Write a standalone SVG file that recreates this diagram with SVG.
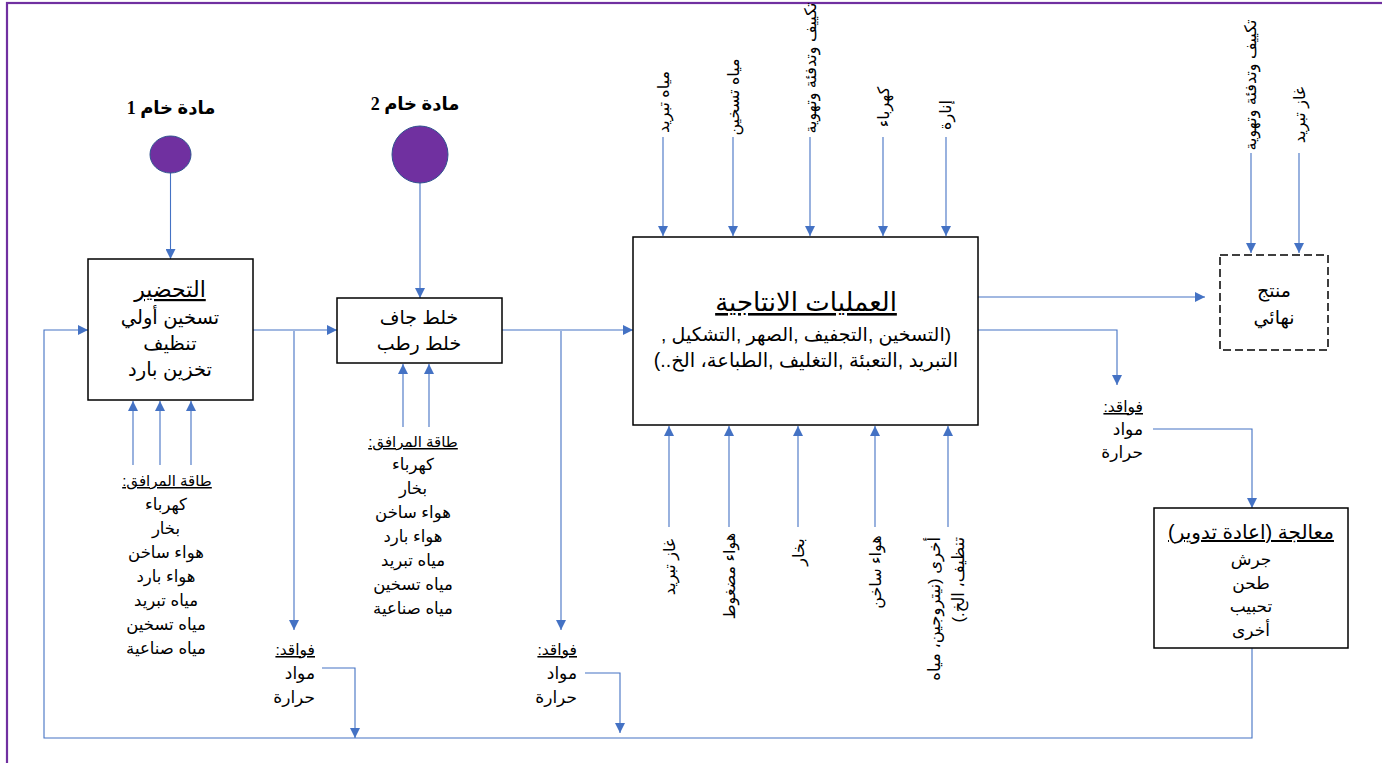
<svg xmlns="http://www.w3.org/2000/svg" width="1382" height="763" viewBox="0 0 1382 763">
<style>
.t{font-family:"Liberation Sans","DejaVu Sans",sans-serif;fill:#000;direction:rtl;text-anchor:middle}
.b{font-family:"Liberation Serif","DejaVu Sans",serif;font-weight:bold;fill:#000;direction:rtl;text-anchor:middle}
.box{fill:#fff;stroke:#000;stroke-width:1.5}
.dbox{fill:#fff;stroke:#000;stroke-width:1.5;stroke-dasharray:8 4}
.c{fill:none;stroke:#4472C4;stroke-width:1.1}
.u{text-decoration:underline}
.rs{text-anchor:start}
</style>
<defs>
<marker id="ah" markerUnits="userSpaceOnUse" viewBox="0 0 10 10" refX="10" refY="5" markerWidth="11" markerHeight="10" orient="auto">
<path d="M0,0 L10,5 L0,10 z" fill="#4472C4"/>
</marker>
</defs>
<rect x="7" y="3" width="1385" height="770" fill="#fff" stroke="#7030A0" stroke-width="2.2"/>

<g id="connectors">
<path class="c" marker-end="url(#ah)" d="M170.5,173 V259"/>
<path class="c" marker-end="url(#ah)" d="M420,183 V298"/>
<path class="c" marker-end="url(#ah)" d="M253,330 H337"/>
<path class="c" marker-end="url(#ah)" d="M502,330 H633"/>
<path class="c" marker-end="url(#ah)" d="M294,331 V630"/>
<path class="c" marker-end="url(#ah)" d="M322,668 H355 V738"/>
<path class="c" marker-end="url(#ah)" d="M561,331 V630"/>
<path class="c" marker-end="url(#ah)" d="M585,673 H620 V733"/>
<path class="c" marker-end="url(#ah)" d="M1252,648 V738 H44 V330 H88"/>
<path class="c" marker-end="url(#ah)" d="M978,297 H1205"/>
<path class="c" marker-end="url(#ah)" d="M978,330 H1117 V385"/>
<path class="c" marker-end="url(#ah)" d="M1153,429 H1252 V508"/>
<path class="c" marker-end="url(#ah)" d="M1251,153 V253"/>
<path class="c" marker-end="url(#ah)" d="M1299,153 V253"/>
<path class="c" marker-end="url(#ah)" d="M663,137 V236"/>
<path class="c" marker-end="url(#ah)" d="M733,137 V236"/>
<path class="c" marker-end="url(#ah)" d="M810,137 V236"/>
<path class="c" marker-end="url(#ah)" d="M883,137 V236"/>
<path class="c" marker-end="url(#ah)" d="M946,137 V236"/>
<path class="c" marker-end="url(#ah)" d="M669,527 V426"/>
<path class="c" marker-end="url(#ah)" d="M729,527 V426"/>
<path class="c" marker-end="url(#ah)" d="M798,527 V426"/>
<path class="c" marker-end="url(#ah)" d="M875,527 V426"/>
<path class="c" marker-end="url(#ah)" d="M948,527 V426"/>
<path class="c" marker-end="url(#ah)" d="M133,465 V401"/>
<path class="c" marker-end="url(#ah)" d="M160,465 V401"/>
<path class="c" marker-end="url(#ah)" d="M191,465 V401"/>
<path class="c" marker-end="url(#ah)" d="M403,427 V364"/>
<path class="c" marker-end="url(#ah)" d="M429,427 V364"/>
</g>

<g id="raw1">
<text class="b" x="171" y="114" font-size="18">مادة خام 1</text>
<ellipse cx="170.5" cy="154.5" rx="20.5" ry="18.5" fill="#7030A0" stroke="#2F528F" stroke-width="1"/>
</g>
<g id="raw2">
<text class="b" x="415" y="110" font-size="18">مادة خام 2</text>
<ellipse cx="420" cy="154.5" rx="28" ry="28.5" fill="#7030A0" stroke="#2F528F" stroke-width="1"/>
</g>

<g id="prep">
<rect class="box" x="88" y="259" width="165" height="141"/>
<text class="t u" x="170" y="297" font-size="22">التحضير</text>
<text class="t" x="170" y="324" font-size="19.5">تسخين أولي</text>
<text class="t" x="170" y="350" font-size="19.5">تنظيف</text>
<text class="t" x="170" y="376" font-size="19.5">تخزين بارد</text>
</g>

<g id="utilities1" font-size="16.5">
<text class="t u" x="167" y="486" font-size="15">طاقة المرافق:</text>
<text class="t" x="166" y="510">كهرباء</text>
<text class="t" x="166" y="534">بخار</text>
<text class="t" x="166" y="558">هواء ساخن</text>
<text class="t" x="166" y="582">هواء بارد</text>
<text class="t" x="166" y="606">مياه تبريد</text>
<text class="t" x="166" y="630">مياه تسخين</text>
<text class="t" x="166" y="654">مياه صناعية</text>
</g>

<g id="mix">
<rect class="box" x="337" y="298" width="165" height="65"/>
<text class="t" x="419" y="324" font-size="19">خلط جاف</text>
<text class="t" x="419" y="350" font-size="19">خلط رطب</text>
</g>

<g id="utilities2" font-size="16.5">
<text class="t u" x="413" y="447" font-size="15">طاقة المرافق:</text>
<text class="t" x="413" y="470">كهرباء</text>
<text class="t" x="413" y="494">بخار</text>
<text class="t" x="413" y="518">هواء ساخن</text>
<text class="t" x="413" y="542">هواء بارد</text>
<text class="t" x="413" y="566">مياه تبريد</text>
<text class="t" x="413" y="590">مياه تسخين</text>
<text class="t" x="413" y="614">مياه صناعية</text>
</g>

<g id="loss1" font-size="17">
<text class="t u rs" x="315" y="655" font-size="15.5">فواقد:</text>
<text class="t rs" x="315" y="679">مواد</text>
<text class="t rs" x="315" y="703">حرارة</text>
</g>
<g id="loss2" font-size="17">
<text class="t u rs" x="577" y="655" font-size="15.5">فواقد:</text>
<text class="t rs" x="577" y="679">مواد</text>
<text class="t rs" x="577" y="703">حرارة</text>
</g>

<g id="production">
<rect class="box" x="633" y="237" width="345" height="188"/>
<text class="t u" x="806" y="311" font-size="26">العمليات الانتاجية</text>
<text class="t" x="806" y="341" font-size="19">(التسخين ,التجفيف ,الصهر ,التشكيل ,</text>
<text class="t" x="806" y="367" font-size="19.5">التبريد ,التعبئة ,التغليف ,الطباعة، الخ..)</text>
</g>

<g id="inputs-top" font-size="16">
<text class="t" x="663" y="102" dy="0.35em" transform="rotate(-90 663 102)">مياه تبريد</text>
<text class="t" x="733" y="97" dy="0.35em" transform="rotate(-90 733 97)">مياه تسخين</text>
<text class="t" x="810" y="68" dy="0.35em" transform="rotate(-90 810 68)">تكييف وتدفئة وتهوية</text>
<text class="t" x="883" y="107" dy="0.35em" transform="rotate(-90 883 107)">كهرباء</text>
<text class="t" x="945" y="115" dy="0.35em" transform="rotate(-90 945 115)">إنارة</text>
</g>

<g id="inputs-bottom" font-size="16">
<text class="t" x="669" y="567" dy="0.35em" transform="rotate(-90 669 567)">غاز تبريد</text>
<text class="t" x="729" y="576" dy="0.35em" transform="rotate(-90 729 576)">هواء مضغوط</text>
<text class="t" x="798" y="552" dy="0.35em" transform="rotate(-90 798 552)">بخار</text>
<text class="t" x="875" y="572" dy="0.35em" transform="rotate(-90 875 572)">هواء ساخن</text>
<g transform="translate(934 537) rotate(-90)">
<text class="t rs" x="0" y="0" dy="0.35em" font-size="16.5">أخرى (نيتروجين، مياه</text>
<text class="t rs" x="0" y="24" dy="0.35em" font-size="16.5">تنظيف، الخ.)</text>
</g>
</g>

<g id="product">
<rect class="dbox" x="1220" y="255" width="108" height="95"/>
<text class="t" x="1274" y="297" font-size="19">منتج</text>
<text class="t" x="1274" y="324" font-size="19">نهائي</text>
</g>
<g id="inputs-product" font-size="16">
<text class="t" x="1250" y="85" dy="0.35em" transform="rotate(-90 1250 85)">تكييف وتدفئة وتهوية</text>
<text class="t" x="1299" y="115" dy="0.35em" transform="rotate(-90 1299 115)">غاز تبريد</text>
</g>

<g id="loss3" font-size="17">
<text class="t u rs" x="1143" y="412" font-size="15.5">فواقد:</text>
<text class="t rs" x="1143" y="435">مواد</text>
<text class="t rs" x="1143" y="458">حرارة</text>
</g>

<g id="treatment">
<rect class="box" x="1154" y="508" width="194" height="140"/>
<text class="t u" x="1251" y="539" font-size="20">معالجة (اعادة تدوير)</text>
<text class="t" x="1251" y="565" font-size="17">جرش</text>
<text class="t" x="1251" y="589" font-size="17">طحن</text>
<text class="t" x="1251" y="612" font-size="17">تحبيب</text>
<text class="t" x="1251" y="636" font-size="17">أخرى</text>
</g>
</svg>
